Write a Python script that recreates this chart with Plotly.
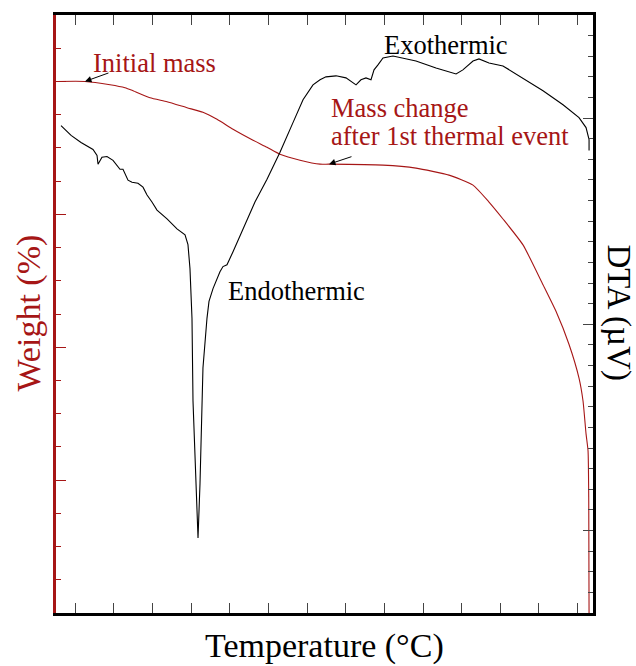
import plotly.graph_objects as go

# ---------------- data ----------------
temp_weight = [26.3, 62.5, 94.9, 114.3, 124.7, 146.7, 168.7, 194.6, 215.2, 233.4, 254.1,
               280.0, 298.1, 314.9, 340.8, 366.7, 378.3, 448.2, 490.9, 533.6, 564.7,
               585.4, 603.5, 629.4, 655.3, 672.1, 688.9, 701.9, 707.1, 711.0, 713.6,
               714.5, 714.9]
weight = [100.0, 100.0, 99.90, 99.81, 99.72, 99.51, 99.39, 99.21, 99.07, 98.86, 98.56,
          98.23, 98.02, 97.81, 97.63, 97.51, 97.51, 97.48, 97.39, 97.18, 96.88,
          96.37, 95.86, 95.08, 93.88, 93.08, 92.09, 91.07, 90.38, 89.39, 88.88,
          87.38, 84.0]

temp_dta = [31.5, 44.5, 57.4, 72.9, 78.1, 79.4, 84.5, 91.0, 98.8, 107.8, 111.7, 114.3,
            118.2, 123.4, 131.1, 137.6, 142.8, 149.2, 155.7, 168.7, 181.6, 192.0,
            195.8, 198.4, 201.0, 202.3, 204.9, 206.2, 208.8, 211.4, 212.7, 215.2,
            220.4, 223.0, 228.2, 237.2, 241.1, 246.3, 254.1, 282.5, 298.1, 314.9,
            331.7, 344.7, 357.6, 366.7, 374.4, 387.4, 400.3, 413.3, 419.7, 426.2,
            432.7, 436.6, 441.7, 448.2, 461.1, 490.9, 516.8, 542.8, 551.6, 564.7,
            572.4, 585.4, 603.5, 629.4, 655.3, 681.2, 701.9, 711.0, 714.9, 714.9]
dta = [96.4, 91.6, 88.2, 84.8, 81.9, 77.6, 81.0, 81.4, 79.5, 75.2, 75.2, 72.8,
       69.9, 68.9, 68.4, 66.5, 62.7, 59.3, 55.4, 51.1, 46.3, 43.4,
       38.6, 27.0, 2.9, -37.1, -61.2, -77.1, -103.6, -77.1, -61.2, -21.2,
       2.9, 11.1, 17.3, 25.5, 28.0, 28.9, 35.2, 59.3, 70.4, 83.4,
       97.8, 108.9, 116.1, 118.6, 120.0, 120.5, 119.5, 116.1, 118.6, 119.5,
       118.6, 123.4, 125.8, 129.2, 130.1, 127.7, 124.3, 121.4, 123.4, 127.7,
       128.7, 126.7, 125.3, 119.5, 113.3, 106.5, 100.2, 95.4, 89.6, 84.3]

RED = "#A61616"
SERIF = "Liberation Serif"

fig = go.Figure()
fig.add_trace(go.Scatter(x=temp_dta, y=dta, mode="lines", yaxis="y2",
                         line=dict(color="black", width=1.1), showlegend=False))
fig.add_trace(go.Scatter(x=temp_weight, y=weight, mode="lines", yaxis="y",
                         line=dict(color=RED, width=1.1, shape="spline", smoothing=0.5),
                         showlegend=False))

L, R, T, B = 56, 43, 12, 53
W, H = 636, 666
PW, PH = W - L - R, H - T - B


def px(xp):
    return (xp - L) / PW


def py(yp):
    return (H - B - yp) / PH


fig.update_layout(
    width=W, height=H,
    margin=dict(l=L, r=R, t=T, b=B),
    paper_bgcolor="white", plot_bgcolor="white",
    xaxis=dict(range=[25, 720], showgrid=False, zeroline=False, showticklabels=False,
               showline=True, linecolor="black", linewidth=3, mirror="allticks",
               ticks="inside", tick0=0, dtick=100, ticklen=10, tickwidth=1, tickcolor="#444",
               minor=dict(ticks="inside", dtick=50, tick0=0, ticklen=5, tickwidth=1,
                          tickcolor="#444")),
    yaxis=dict(range=[84, 102], showgrid=False, zeroline=False, showticklabels=False,
               showline=True, linecolor=RED, linewidth=3,
               ticks="inside", tick0=100, dtick=4, ticklen=10, tickwidth=1, tickcolor=RED,
               minor=dict(ticks="inside", dtick=1, tick0=84, ticklen=5, tickwidth=1,
                          tickcolor=RED)),
    yaxis2=dict(range=[-140, 150], overlaying="y", side="right", showgrid=False,
                zeroline=False, showticklabels=False,
                showline=True, linecolor="black", linewidth=3,
                ticks="inside", tick0=0, dtick=100, ticklen=10, tickwidth=1, tickcolor="#444",
                minor=dict(ticks="inside", dtick=10, tick0=0, ticklen=5, tickwidth=1,
                           tickcolor="#444")),
)

ann = []
# axis titles
ann.append(dict(text="Temperature (°C)", xref="paper", yref="paper", x=0.5, y=py(646),
                xanchor="center", yanchor="middle", showarrow=False,
                font=dict(family=SERIF, size=34, color="black")))
ann.append(dict(text="Weight (%)", xref="paper", yref="paper", x=px(29), y=py(312),
                xanchor="center", yanchor="middle", showarrow=False, textangle=-90,
                font=dict(family=SERIF, size=34, color=RED)))
ann.append(dict(text="DTA (µV)", xref="paper", yref="paper", x=px(618), y=py(311),
                xanchor="center", yanchor="middle", showarrow=False, textangle=90,
                font=dict(family=SERIF, size=33, color="black")))
# labels
LBL = 26.5
ann.append(dict(text="Initial mass", xref="paper", yref="paper", x=px(91), y=py(60),
                xanchor="left", yanchor="middle", showarrow=False,
                font=dict(family=SERIF, size=LBL, color=RED)))
ann.append(dict(text="Exothermic", xref="paper", yref="paper", x=px(382), y=py(42),
                xanchor="left", yanchor="middle", showarrow=False,
                font=dict(family=SERIF, size=LBL, color="black")))
ann.append(dict(text="Endothermic", xref="paper", yref="paper", x=px(226), y=py(289),
                xanchor="left", yanchor="middle", showarrow=False,
                font=dict(family=SERIF, size=LBL, color="black")))
ann.append(dict(text="Mass change", xref="paper", yref="paper", x=px(329), y=py(105),
                xanchor="left", yanchor="middle", showarrow=False,
                font=dict(family=SERIF, size=LBL, color=RED)))
ann.append(dict(text="after 1st thermal event", xref="paper", yref="paper", x=px(329),
                y=py(134), xanchor="left", yanchor="middle", showarrow=False,
                font=dict(family=SERIF, size=LBL, color=RED)))
# arrows
ann.append(dict(text="", x=temp_weight[1], y=weight[1], xref="x", yref="y",
                ax=25, ay=-9, showarrow=True, arrowhead=2, arrowsize=1.3,
                arrowwidth=1, arrowcolor="black"))
ann.append(dict(text="", x=temp_weight[16], y=weight[16], xref="x", yref="y",
                ax=24, ay=-8, showarrow=True, arrowhead=2, arrowsize=1.3,
                arrowwidth=1, arrowcolor="black"))

fig.update_layout(annotations=ann)
fig.write_html("out.html")
